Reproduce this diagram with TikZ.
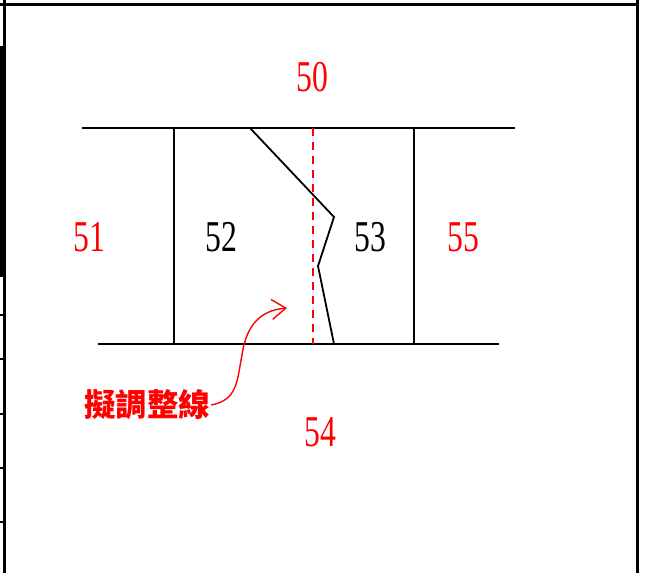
\documentclass[tikz,border=0pt]{standalone}
\usepackage{fontspec}
\usepackage{graphicx}
\setmainfont{Liberation Serif}
\newfontfamily\cjk{Noto Sans CJK TC}
\usetikzlibrary{arrows.meta}
\newcommand\narrow[1]{\scalebox{.72}[1]{#1}}
\tikzset{num/.style={inner sep=0pt,font=\fontsize{44}{44}\selectfont},rednum/.style={num,text=red},
  frame/.style={line width=3pt},part/.style={line width=1.8pt}}
\begin{document}
\begin{tikzpicture}[x=1pt,y=-1pt]
\useasboundingbox(0,0)rectangle(648,573);
% frame
\draw[frame](0,4)--(637,4) (637,0)--(637,573) (4,0)--(4,573);\fill(0,46)rectangle(5,277);
\foreach\t in{315,359,414,468,522}{\draw[line width=1.5pt](0,\t)--(6,\t);}
\coordinate(TL)at(82,128);\coordinate(TR)at(515,128);\coordinate(BL)at(98,344);\coordinate(BR)at(499,344);
\coordinate(A)at(174,128);\coordinate(A1)at(174,344);\coordinate(B)at(414,128);\coordinate(B1)at(414,344);
\coordinate(C)at(313,128);\coordinate(C1)at(313,344);
\coordinate(P)at(250,128);\coordinate(Q)at(334,217);\coordinate(R)at(318,266);\coordinate(S)at(334,344);
\draw[part](TL)--(TR) (BL)--(BR) (A)--(A1) (B)--(B1);\draw[part](P)--(Q)--(R)--(S);
\draw[line width=2.2pt,red,dash pattern=on 8pt off 6pt](C)--(C1);
\foreach\n/\x/\y in{50/312/77,51/89/237,55/463/237,54/320/432}{\node[rednum](n\n)at(\x,\y){\narrow{\n}};}
\foreach\n/\x/\y in{52/221/237,53/370/237}{\node[num](n\n)at(\x,\y){\narrow{\n}};}
\node[text=red,inner sep=1pt,font=\cjk\bfseries\fontsize{31.5}{31.5}\selectfont](note)at(147,405){擬調整線};
\coordinate(T)at(287,308);
\draw[red,line width=1.4pt,-{Straight Barb[length=14pt,width=20pt]}](note.east)..controls(238,400)and(237,380)..(242,355)..controls(247,320)and(265,310)..(T);
\end{tikzpicture}
\end{document}
